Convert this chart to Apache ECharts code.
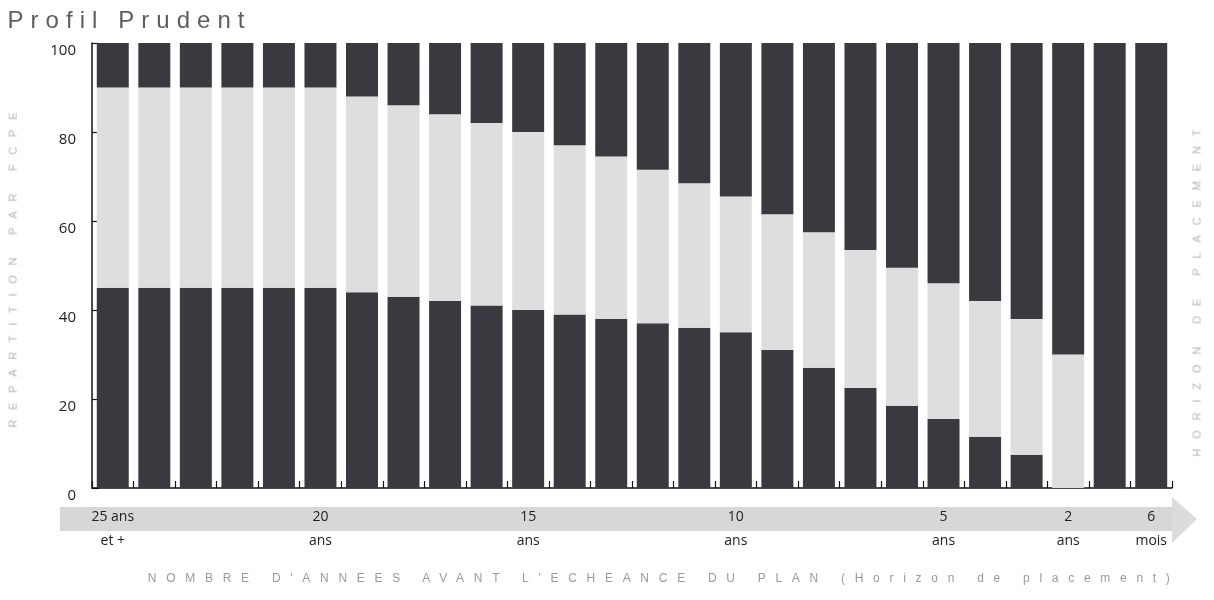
<!DOCTYPE html>
<html>
<head>
<meta charset="utf-8">
<script src="https://cdn.jsdelivr.net/npm/echarts@6/dist/echarts.min.js"></script>
<style>
  html, body { margin: 0; padding: 0; background: #ffffff; }
  #wrap { position: relative; width: 1214px; height: 600px; overflow: hidden; }
  #chart { position: absolute; left: 0; top: 0; width: 1214px; height: 600px; }
  .lbl { position: absolute; white-space: nowrap; font-family: 'Liberation Sans', Arial, sans-serif; }
</style>
</head>
<body>
<div id="wrap">
  <div id="chart"></div>
  <div class="lbl" id="tTitle" style="font-size:24px;color:#5e5e5e;">Profil Prudent</div>
  <div class="lbl" id="tY" style="font-size:11px;color:#b4b4b4;">REPARTITION PAR FCPE</div>
  <div class="lbl" id="tR" style="font-size:11px;color:#b4b4b4;">HORIZON DE PLACEMENT</div>
  <div class="lbl" id="tX" style="font-size:12px;color:#9a9a9a;">NOMBRE D'ANNEES AVANT L'ECHEANCE DU PLAN (Horizon de placement)</div>
</div>
<script>
// ---- data ----
const categories = ['25 ans et +','24 ans','23 ans','22 ans','21 ans','20 ans','19 ans','18 ans','17 ans','16 ans',
  '15 ans','14 ans','13 ans','12 ans','11 ans','10 ans','9 ans','8 ans','7 ans','6 ans','5 ans',
  '4 ans','3 ans','2 ans','1 an','6 mois'];
// bottom dark segment
const bottomShare = [45,45,45,45,45,45,44,43,42,41,40,39,38,37,36,35,31,27,22.5,18.5,15.5,11.5,7.5,0,0,0];
// middle light segment
const middleShare = [45,45,45,45,45,45,44,43,42,41,40,38,36.5,34.5,32.5,30.5,30.5,30.5,31,31,30.5,30.5,30.5,30,0,0];
// top dark segment
const topShare = [10,10,10,10,10,10,12,14,16,18,20,23,25.5,28.5,31.5,34.5,38.5,42.5,46.5,50.5,54,58,62,70,100,100];
// labels shown under the axis (index -> text)
const tickLabels = {0:'25 ans\net +', 5:'20\nans', 10:'15\nans', 15:'10\nans', 20:'5\nans', 23:'2\nans', 25:'6\nmois'};
const yTicks = [0,20,40,60,80,100];

const DARK = '#3a393f';
const LIGHT = '#dedede';

const chart = echarts.init(document.getElementById('chart'));
const option = {
  backgroundColor: '#ffffff',
  animation: false,
  grid: { left: 92, right: 42, top: 43, bottom: 112 },
  graphic: [
    { type: 'rect', z: 0, shape: { x: 60, y: 507, width: 1112, height: 24 }, style: { fill: '#d7d7d7' } },
    { type: 'polygon', z: 0, shape: { points: [[1172,497],[1197,519],[1172,543]] }, style: { fill: '#dcdcdc' } }
  ],
  xAxis: {
    type: 'category',
    data: categories,
    boundaryGap: true,
    axisLine: { show: true, lineStyle: { color: '#111', width: 1.5 } },
    axisTick: { show: true, inside: true, length: 7, interval: 0, lineStyle: { color: '#111', width: 1.2 } },
    axisLabel: {
      interval: function (idx) { return tickLabels[idx] !== undefined; },
      formatter: function (v, idx) { return tickLabels[idx] || ''; },
      margin: 17,
      lineHeight: 24,
      fontSize: 14,
      color: '#222',
      fontFamily: 'Open Sans'
    },
    splitLine: { show: false }
  },
  yAxis: {
    type: 'value',
    min: yTicks[0],
    max: yTicks[yTicks.length - 1],
    interval: 20,
    axisLine: { show: true, lineStyle: { color: '#111', width: 1.5 } },
    axisTick: { show: true, inside: true, length: 7, lineStyle: { color: '#111', width: 1.2 } },
    axisLabel: { fontSize: 15, color: '#222', fontFamily: 'Open Sans', margin: 16, verticalAlign: 'top', padding: [0,0,0,0] },
    splitLine: { show: false }
  },
  series: [
    { name: 'Part basse', type: 'bar', stack: 'p', data: bottomShare, barCategoryGap: '23%', itemStyle: { color: DARK } },
    { name: 'Part médiane', type: 'bar', stack: 'p', data: middleShare, barCategoryGap: '23%', itemStyle: { color: LIGHT } },
    { name: 'Part haute', type: 'bar', stack: 'p', data: topShare, barCategoryGap: '23%', itemStyle: { color: DARK } }
  ]
};
chart.setOption(option);

// letter-spaced overlay texts fitted to measured widths
function fit(id, cx, cy, target, rotate) {
  const el = document.getElementById(id);
  el.style.letterSpacing = '0px';
  const w = el.getBoundingClientRect().width;
  const n = el.textContent.length;
  const sp = (target - w) / (n - 1);
  el.style.letterSpacing = sp + 'px';
  el.style.marginRight = (-sp) + 'px';
  const w2 = el.offsetWidth - sp;
  const h = el.offsetHeight;
  el.style.left = (cx - (el.offsetWidth) / 2) + 'px';
  el.style.top = (cy - h / 2) + 'px';
  el.style.transformOrigin = ((w2) / 2) + 'px 50%';
  el.style.transform = rotate ? 'rotate(-90deg)' : 'none';
  el.style.left = (cx - w2 / 2) + 'px';
}
fit('tTitle', 126, 20, 237, false);
fit('tY', 13, 270, 315, true);
fit('tR', 1197, 293, 327, true);
fit('tX', 659, 578, 1022, false);
</script>
</body>
</html>
